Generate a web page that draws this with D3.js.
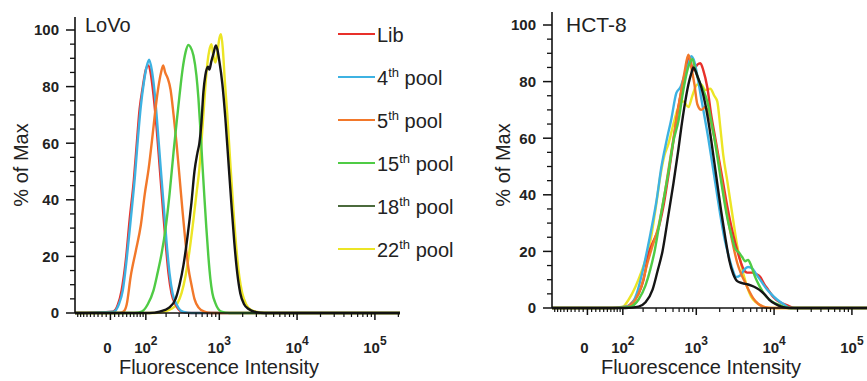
<!DOCTYPE html>
<html>
<head>
<meta charset="utf-8">
<script src="https://cdn.jsdelivr.net/npm/d3@7"></script>
<style>
  body { margin: 0; background: #fff; }
  text { font-family: "Liberation Sans", Arial, sans-serif; }
</style>
</head>
<body>
<svg id="chart" width="867" height="381"></svg>
<script>
// Series names and colours (legend order)
const seriesNums = ["Lib", "4", "5", "15", "18", "22"];
const seriesColors = ["#e8302a", "#3db2e2", "#f2782a", "#4fcb45", "#151515", "#ece525"];
const legendColors = ["#e8302a", "#3db2e2", "#f2782a", "#4fcb45", "#4b6a3c", "#ece525"];

// Axis ticks
const yMajor = [0, 20, 40, 60, 80, 100];
const yMinor = [5, 10, 15, 25, 30, 35, 45, 50, 55, 65, 70, 75, 85, 90, 95];
const xMajor = [0, 100, 1000, 10000, 100000];
const xLabels = ["0", "2", "3", "4", "5"]; // exponents of 10 (first one is plain 0)
const xMinor = [-90, -80, -70, -60, -50, -40, -30, -20, -10, 10, 20, 30, 40, 50, 60, 70, 80, 90,
  200, 300, 400, 500, 600, 700, 800, 900, 2000, 3000, 4000, 5000, 6000, 7000, 8000, 9000,
  20000, 30000, 40000, 50000, 60000, 70000, 80000, 90000, 200000];
const xDomain = [-100, 210000];

// LoVo histograms: [intensity, % of max]
const lovoLib = [[-100,0],[6,0.5],[18,3],[27,8],[38,19],[48,33],[60,47],[69,60],[78,72],[89,80],[100,86],[109,87.5],[119,85],[132,77],[146,66],[162,52],[179,38],[197,25],[216,14],[237,7],[269,3],[323,0.5],[411,0],[210000,0]];
const lovo4 = [[-100,0],[8,0.5],[20,3],[30,8],[40,19],[51,33],[63,48],[72,61],[82,73],[92,81],[103,87],[113,89.5],[124,86],[137,78],[151,66],[167,52],[185,38],[203,25],[223,14],[245,7],[278,3],[333,0.5],[436,0],[210000,0]];
const lovo5 = [[-100,0],[22,0],[32,0.5],[40,3],[51,13],[66,22],[82,31],[96,42],[111,51],[128,63],[141,72],[156,80],[170,85],[182,87.5],[194,85],[210,83],[230,79],[253,70],[277,60],[304,48],[333,36],[364,25],[397,16],[436,10],[477,5],[537,2],[642,0.5],[791,0],[210000,0]];
const lovo15 = [[-100,0],[63,0],[85,0.5],[107,3],[132,8],[151,14],[173,21],[197,30],[223,42],[253,57],[277,67],[304,77],[333,86],[364,92],[397,94.7],[423,94],[463,91],[506,84],[537,76],[570,65],[604,53],[642,41],[681,30],[723,20],[768,12],[815,7],[890,3.5],[1063,0.5],[1346,0],[210000,0]];
const lovo18 = [[-100,0],[115,0],[162,0.5],[223,2],[269,5],[304,10],[343,17],[387,27],[436,39],[477,50],[521,56.5],[553,60],[587,67],[623,78],[661,84],[714,87],[744,86],[791,89],[838,91.5],[903,94.5],[946,93],[1002,89],[1095,81],[1196,69],[1307,54],[1428,39],[1560,25],[1705,14],[1862,7],[2095,3],[2357,1.5],[2985,0.3],[3777,0],[210000,0]];
const lovo22 = [[-100,0],[137,0],[191,0.5],[237,1.5],[286,3.5],[323,7],[364,13],[411,22],[463,33],[506,42],[553,51],[587,60],[623,70],[661,80],[701,88],[746,93],[791,95],[838,91],[890,88.5],[946,92],[1002,97],[1054,98.5],[1113,93],[1178,82],[1269,70],[1386,53],[1515,37],[1656,23],[1808,13],[1976,7],[2223,3],[2576,1],[3260,0.3],[4377,0],[210000,0]];

// HCT-8 histograms
const hctLib = [[-100,0],[66,0],[115,0.5],[146,2.5],[173,5],[203,10],[237,19],[269,23],[313,27],[375,36],[436,47],[506,59],[587,71],[681,80],[746,85],[803,89],[864,86],[918,84],[1032,86],[1127,86.5],[1232,84],[1386,78],[1560,68],[1756,60],[1976,52],[2223,44],[2501,36],[2814,29],[3165,23],[3562,18],[4006,14],[4508,12.5],[5222,12.5],[5875,12],[6612,11],[7440,8.5],[8368,6.5],[9700,4],[11913,2],[14637,1],[18520,0],[210000,0]];
const hct4 = [[-100,0],[66,0],[107,0.5],[132,1],[162,5],[203,14.5],[253,26.5],[304,38],[353,50],[411,59],[477,67],[553,76],[623,78],[701,82],[791,86],[864,89],[946,87],[1032,82],[1127,76],[1269,68],[1428,60],[1607,51],[1808,42],[2034,33],[2288,25],[2576,19],[2898,14],[3260,11],[3667,11.5],[4126,13.5],[4641,14.5],[5222,14],[5875,12],[6810,9.5],[7888,7],[9144,5],[10900,3],[13000,1.5],[16470,0],[210000,0]];
const hct5 = [[-100,0],[72,0],[119,0.5],[156,3],[191,8],[230,16],[269,22],[323,29],[387,40],[449,51],[521,62],[604,73],[701,83],[791,89.5],[864,85],[946,79],[1032,72],[1161,70],[1307,71],[1470,68],[1656,62],[1862,55],[2095,46],[2357,37],[2652,29],[2985,22],[3358,16],[3777,12],[4250,9],[4782,6],[5380,3.5],[6233,1.5],[7658,0.3],[9418,0],[210000,0]];
const hct15 = [[-100,0],[75,0],[132,0.5],[173,3],[216,8],[253,14],[286,20],[323,28],[375,38],[436,48],[506,59],[587,66],[681,77],[768,84],[838,87],[890,88],[973,84],[1095,80],[1232,77],[1386,73],[1560,66],[1756,58],[1976,49],[2223,40],[2501,32],[2814,26],[3165,21],[3562,19.5],[3890,18],[4250,16.5],[4641,17],[5070,15],[5704,11],[6420,8],[7440,5],[9144,2.5],[11913,1],[15990,0],[210000,0]];
const hct18 = [[-100,0],[111,0],[173,0.5],[216,2],[269,6.5],[313,13],[364,20],[436,33],[506,44],[587,56],[642,64],[701,71],[791,79],[864,83],[918,85],[1032,82],[1161,78],[1307,72],[1470,64],[1656,54],[1862,44],[2095,34],[2357,25],[2652,17],[2985,12],[3358,9.5],[3890,8.8],[4641,8.3],[5540,7.5],[6420,6.5],[7440,5],[8618,3],[10270,1.5],[12620,0.4],[15990,0],[210000,0]];
const hct22 = [[-100,0],[60,0],[100,0.5],[124,3],[156,7.5],[191,13],[216,17],[253,24],[295,35],[343,47],[387,54],[436,58],[506,65],[587,71],[681,73],[791,71],[890,75],[1032,79],[1161,79],[1307,77],[1515,77.5],[1705,75],[1862,73],[2034,64],[2223,54],[2501,45],[2985,31],[3358,22],[3667,17],[4126,11],[4508,7.5],[5070,4],[5875,2],[7220,0.5],[8860,0],[210000,0]];

const lovoSeries = [lovoLib, lovo4, lovo5, lovo15, lovo18, lovo22];
const hctSeries = [hctLib, hct4, hct5, hct15, hct18, hct22];
const drawOrder = [5, 0, 1, 2, 3, 4];

const svg = d3.select("#chart");
const S = 80; // biexponential-like (asinh) width parameter

const panels = [
  { title: "LoVo", series: lovoSeries, ax: 75, y0: 313, y100: 30, titleX: 85, titleSize: 20, yLabX: 21, xLabX: 219 },
  { title: "HCT-8", series: hctSeries, ax: 552, y0: 308, y100: 25, titleX: 566, titleSize: 21, yLabX: 503, xLabX: 701 }
];

panels.forEach(p => {
  const g = svg.append("g");
  const xLin = d3.scaleLinear()
    .domain([Math.asinh(xDomain[0] / S), Math.asinh(xDomain[1] / S)])
    .range([p.ax, p.ax + 325]);
  const x = v => xLin(Math.asinh(v / S));
  const y = d3.scaleLinear().domain([0, 100]).range([p.y0, p.y100]);

  // Curves
  const line = d3.line()
    .x(d => x(d[0]))
    .y(d => y(d[1]))
    .curve(d3.curveMonotoneX);

  drawOrder.forEach(i => {
    g.append("path")
      .datum(p.series[i])
      .attr("d", line)
      .attr("fill", "none")
      .attr("stroke", seriesColors[i])
      .attr("stroke-width", 2.4)
      .attr("stroke-linejoin", "round");
  });

  // Y axis
  g.append("line")
    .attr("x1", p.ax).attr("x2", p.ax)
    .attr("y1", p.y0).attr("y2", p.y100 - 13)
    .attr("stroke", "#111").attr("stroke-width", 1.6);

  g.selectAll(".yMinor").data(yMinor).enter().append("line")
    .attr("x1", p.ax - 5).attr("x2", p.ax)
    .attr("y1", d => y(d)).attr("y2", d => y(d))
    .attr("stroke", "#111").attr("stroke-width", 1.3);

  g.selectAll(".yMajor").data(yMajor).enter().append("line")
    .attr("x1", p.ax - 9).attr("x2", p.ax)
    .attr("y1", d => y(d)).attr("y2", d => y(d))
    .attr("stroke", "#111").attr("stroke-width", 1.5);

  g.selectAll(".yLab").data(yMajor).enter().append("text")
    .attr("x", p.ax - 16)
    .attr("y", d => y(d))
    .attr("dy", "0.36em")
    .attr("text-anchor", "end")
    .attr("font-size", 15)
    .attr("font-weight", "bold")
    .attr("fill", "#222")
    .text(d => d);

  // X axis
  g.append("line")
    .attr("x1", p.ax).attr("x2", Math.min(867, x(xDomain[1])))
    .attr("y1", p.y0).attr("y2", p.y0)
    .attr("stroke", "#111").attr("stroke-width", 1.6);

  g.selectAll(".xMinor").data(xMinor).enter().append("line")
    .attr("x1", d => x(d)).attr("x2", d => x(d))
    .attr("y1", p.y0).attr("y2", p.y0 + 4)
    .attr("stroke", "#111").attr("stroke-width", 1.2);

  g.selectAll(".xMajor").data(xMajor).enter().append("line")
    .attr("x1", d => x(d)).attr("x2", d => x(d))
    .attr("y1", p.y0).attr("y2", p.y0 + 7)
    .attr("stroke", "#111").attr("stroke-width", 1.5);

  const xl = g.selectAll(".xLab").data(xMajor).enter().append("text")
    .attr("x", (d, i) => x(d) + (i === 0 ? -3 : 0))
    .attr("y", 353)
    .attr("text-anchor", "middle")
    .attr("font-size", 15)
    .attr("font-weight", "bold")
    .attr("fill", "#222");
  xl.each(function (d, i) {
    const t = d3.select(this);
    if (i === 0) { t.text(xLabels[i]); return; }
    t.append("tspan").text("10");
    t.append("tspan").attr("dy", -8).attr("font-size", 12).text(xLabels[i]);
  });

  // Axis titles
  g.append("text")
    .attr("x", p.xLabX).attr("y", 374)
    .attr("text-anchor", "middle")
    .attr("font-size", 20)
    .attr("fill", "#222")
    .text("Fluorescence Intensity");

  g.append("text")
    .attr("transform", `translate(${p.yLabX},165) rotate(-90)`)
    .attr("dy", "0.36em")
    .attr("text-anchor", "middle")
    .attr("font-size", 20)
    .attr("fill", "#222")
    .text("% of Max");

  g.append("text")
    .attr("x", p.titleX).attr("y", 32)
    .attr("font-size", p.titleSize)
    .attr("fill", "#222")
    .text(p.title);
});

// Legend
const legend = svg.append("g");
seriesNums.forEach((n, i) => {
  const by = 42 + i * 43;
  legend.append("line")
    .attr("x1", 338).attr("x2", 375)
    .attr("y1", by - 8).attr("y2", by - 8)
    .attr("stroke", legendColors[i])
    .attr("stroke-width", 2.2);
  const t = legend.append("text")
    .attr("x", 377).attr("y", by)
    .attr("font-size", 20)
    .attr("fill", "#222");
  if (i === 0) {
    t.text(n);
  } else {
    t.append("tspan").text(n);
    t.append("tspan").attr("dy", -8).attr("font-size", 13).text("th");
    t.append("tspan").attr("dy", 8).text(" pool");
  }
});
</script>
</body>
</html>
